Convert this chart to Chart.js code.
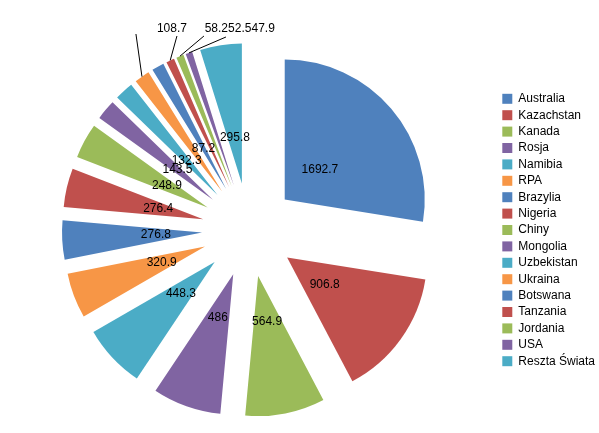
<!DOCTYPE html>
<html>
<head>
<meta charset="utf-8">
<script src="https://cdn.jsdelivr.net/npm/chart.js@4.4.1/dist/chart.umd.min.js"></script>
<style>
  html, body { margin: 0; padding: 0; background: #fff; }
  canvas { display: block; }
</style>
</head>
<body>
<canvas id="pieChart" width="599" height="433"></canvas>
<script>
// Data
const countries = ['Australia', 'Kazachstan', 'Kanada', 'Rosja', 'Namibia', 'RPA', 'Brazylia',
  'Nigeria', 'Chiny', 'Mongolia', 'Uzbekistan', 'Ukraina', 'Botswana', 'Tanzania', 'Jordania',
  'USA', 'Reszta Świata'];
const values = [1692.7, 906.8, 564.9, 486, 448.3, 320.9, 276.8, 276.4, 248.9, 143.5, 132.3,
  108.7, 87.2, 58.2, 52.5, 47.9, 295.8];

// Office 2010 palette, cycled like Excel does
const PALETTE = ['#4f81bd', '#c0504d', '#9bbb59', '#8064a2', '#4bacc6', '#f79646'];
const sliceColors = countries.map((_, i) => PALETTE[i % PALETTE.length]);

const FONT_FAMILY = '"Liberation Sans", Arial, sans-serif';
const EXPLODE = 47;          // px every slice is pulled out from the centre
const LABEL_DEPTH = 0.33;    // inside labels sit at this fraction of the radius

// Small slices get a callout instead of an inside label.
// Offsets are relative to the pie centre: leader end point and text centre.
const CALLOUTS = {
  11: { leader: [-113, -196], text: [-77, -201.5] },
  13: { leader: [-72, -194], text: [-32.6, -201.5] },
  14: { leader: [-45, -194], text: [-9.2, -201.5] },
  15: { leader: [-23, -193], text: [14.2, -201.5] }
};

// Pushes every arc outwards along its bisector (Excel "exploded pie")
const explodeSlices = {
  id: 'explodeSlices',
  afterDatasetsUpdate(chart) {
    chart.getDatasetMeta(0).data.forEach((arc) => {
      const mid = (arc.startAngle + arc.endAngle) / 2;
      arc.x += Math.cos(mid) * EXPLODE;
      arc.y += Math.sin(mid) * EXPLODE;
    });
  }
};

// Value labels: inside for big slices, leader lines for the thin ones
const valueLabels = {
  id: 'valueLabels',
  afterDatasetsDraw(chart) {
    const { ctx } = chart;
    const arcs = chart.getDatasetMeta(0).data;
    ctx.save();
    ctx.font = `12px ${FONT_FAMILY}`;
    ctx.fillStyle = '#000';
    ctx.strokeStyle = '#000';
    ctx.lineWidth = 1;
    ctx.textAlign = 'center';
    ctx.textBaseline = 'middle';

    arcs.forEach((arc, i) => {
      const mid = (arc.startAngle + arc.endAngle) / 2;
      const ux = Math.cos(mid);
      const uy = Math.sin(mid);
      const cx = arc.x - ux * EXPLODE;
      const cy = arc.y - uy * EXPLODE;
      const text = String(values[i]);
      const callout = CALLOUTS[i];

      if (!callout) {
        const r = arc.outerRadius * LABEL_DEPTH;
        ctx.fillText(text, arc.x + ux * r, arc.y + uy * r);
        return;
      }
      ctx.beginPath();
      ctx.moveTo(arc.x + ux * arc.outerRadius, arc.y + uy * arc.outerRadius);
      ctx.lineTo(cx + callout.leader[0], cy + callout.leader[1]);
      ctx.stroke();
      ctx.fillText(text, cx + callout.text[0], cy + callout.text[1]);
    });
    ctx.restore();
  }
};

new Chart(document.getElementById('pieChart'), {
  type: 'pie',
  data: {
    labels: countries,
    datasets: [{
      data: values,
      backgroundColor: sliceColors,
      borderWidth: 0,
      radius: 140
    }]
  },
  options: {
    responsive: false,
    animation: false,
    layout: { padding: { top: 27, right: -6, bottom: 0, left: 0 } },
    plugins: {
      tooltip: { enabled: false },
      legend: {
        position: 'right',
        labels: {
          boxWidth: 10,
          boxHeight: 10,
          padding: 4.4,
          color: '#000',
          font: { size: 12, family: FONT_FAMILY }
        }
      }
    }
  },
  plugins: [explodeSlices, valueLabels]
});
</script>
</body>
</html>
